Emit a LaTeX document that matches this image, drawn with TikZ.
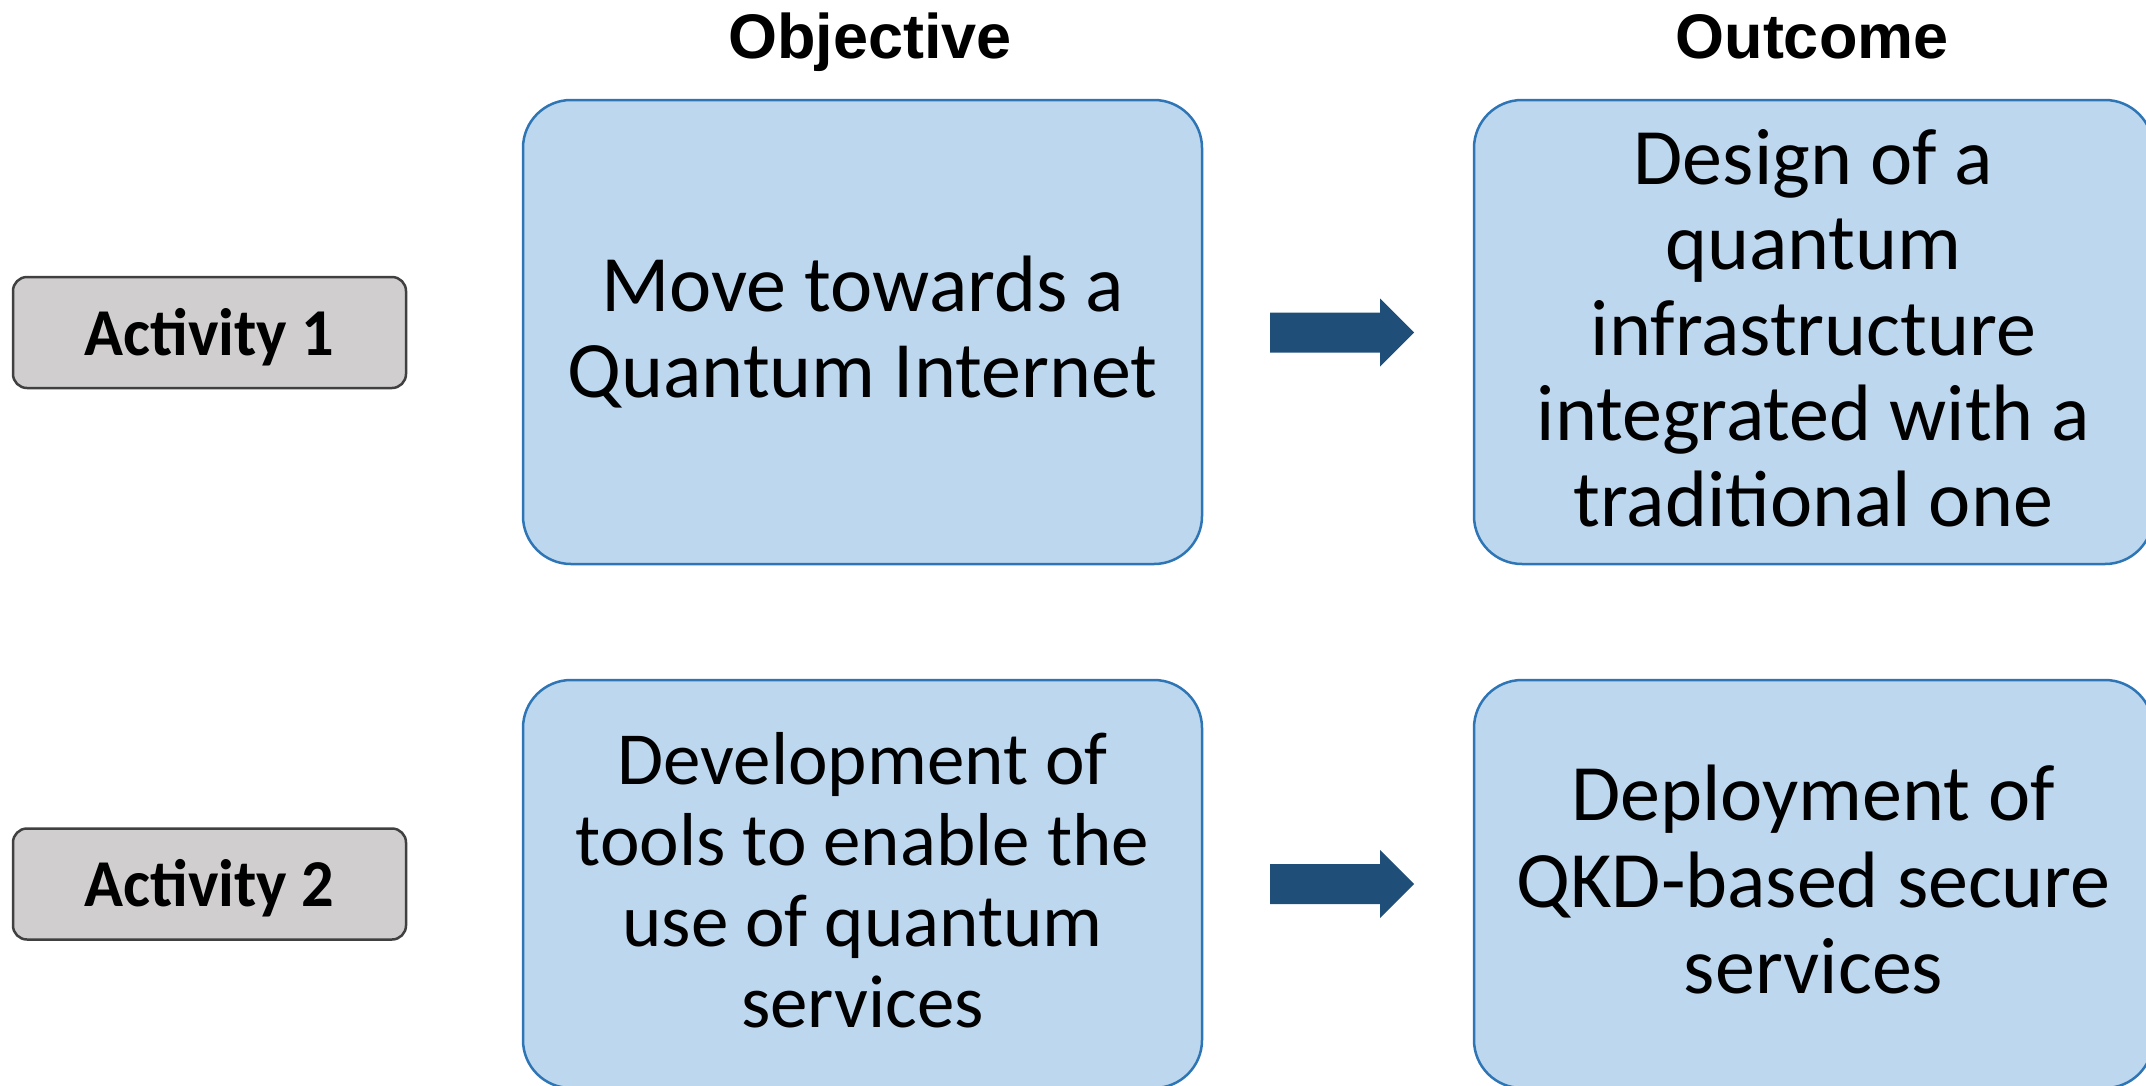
\documentclass[tikz,border=0pt]{standalone}
\usepackage{fontspec}
\setmainfont{Carlito}
\newfontfamily\headfont{Liberation Sans}
\newfontfamily\actfont[FakeStretch=0.96]{Carlito}
\definecolor{boxfill}{HTML}{BDD7EE}
\definecolor{boxline}{HTML}{2E75B6}
\definecolor{actfill}{HTML}{D0CECE}
\definecolor{actline}{HTML}{404040}
\definecolor{arrowc}{HTML}{1F4E79}
\begin{document}
\begin{tikzpicture}[x=1pt,y=-1pt,
  bluebox/.style={draw=boxline,line width=2.5pt,fill=boxfill,rounded corners=48pt,
    minimum width=679pt,inner sep=0pt,align=center,
    font=\fontsize{80}{85.5}\selectfont},
  boxtext/.style={align=center,inner sep=0pt},
  actbox/.style={draw=actline,line width=2.5pt,fill=actfill,rounded corners=14pt,
    minimum width=393pt,minimum height=111pt,inner sep=0pt,text height=50pt,text depth=5pt,
    font=\fontsize{67}{70}\actfont\bfseries},
  header/.style={font=\fontsize{63}{70}\selectfont\headfont\bfseries,anchor=base,inner sep=0pt},
  blockarrow/.style={fill=arrowc}]
\useasboundingbox (0,0) rectangle (2146,1085);
\clip (0,0) rectangle (2146,1085);
\node[header] (hobj) at (870,58) {Objective};
\node[header] (hout) at (1812,58) {Outcome};
\node[actbox] (act1) at (209.5,332.5) {Activity 1};
\node[actbox] (act2) at (209.5,884) {Activity 2};
\node[bluebox,minimum height=464pt] (obj1) at (862.5,332) {Move towards a\\Quantum Internet};
\node[bluebox,minimum height=464pt] (out1) at (1813.5,332) {};
\node[boxtext,font=\fontsize{80}{85.5}\selectfont,yshift=4pt] (out1t) at (out1.center) {Design of a\\quantum\\infrastructure\\integrated with a\\traditional one};
\node[bluebox,minimum height=408pt] (obj2) at (862.5,884) {};
\node[boxtext,font=\fontsize{75}{81}\selectfont,yshift=4pt] (obj2t) at (obj2.center) {Development of\\tools to enable the\\use of quantum\\services};
\node[bluebox,minimum height=408pt] (out2) at (1813.5,884) {};
\node[boxtext,font=\fontsize{80}{86.5}\selectfont,yshift=4pt] (out2t) at (out2.center) {Deployment of\\QKD-based secure\\services};
\coordinate (ar1) at (1270,332.5);
\coordinate (ar2) at (1270,884);
\foreach \c in {ar1,ar2}{
  \fill[blockarrow] (\c) ++(0,-20) -- ++(110,0) -- ++(0,-14) -- ++(34,34) -- ++(-34,34) -- ++(0,-14) -- ++(-110,0) -- cycle;
}
\end{tikzpicture}
\end{document}
